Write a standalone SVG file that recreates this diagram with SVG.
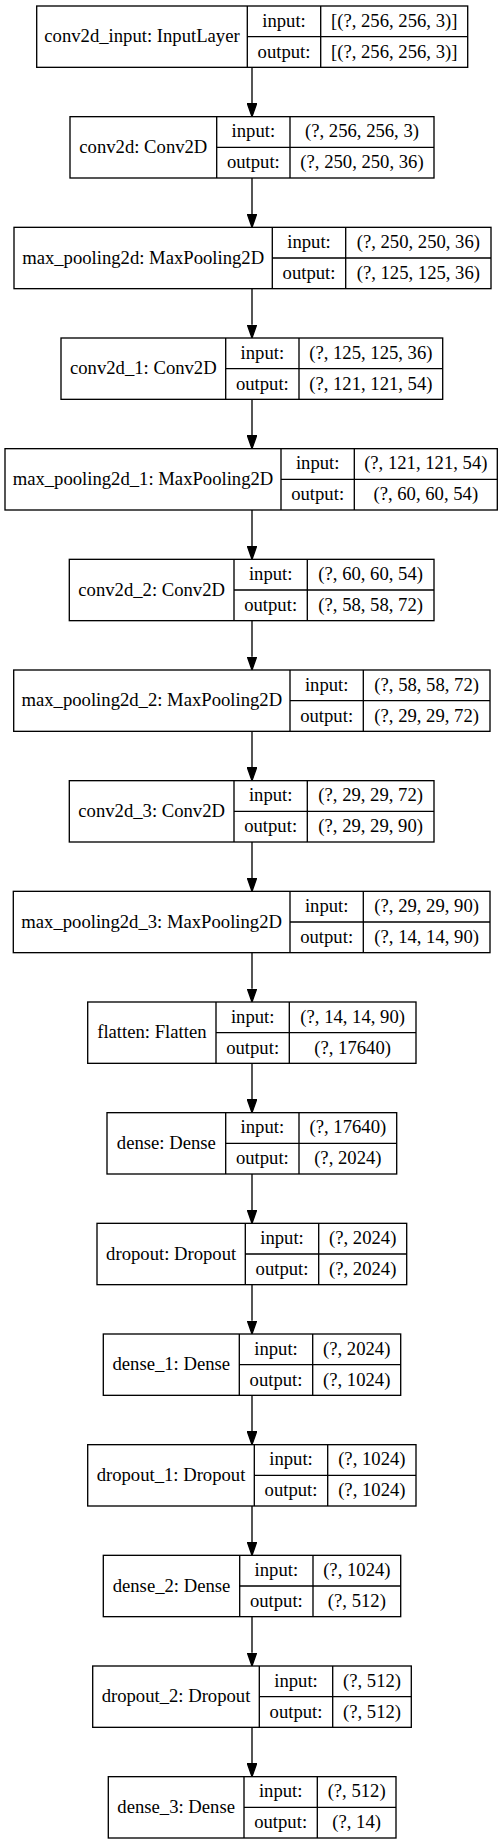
<svg xmlns="http://www.w3.org/2000/svg" width="504" height="1844" viewBox="0 0 504 1844">
<style>
.box{fill:#fff;stroke:#000;stroke-width:1.33}
.div{fill:none;stroke:#000;stroke-width:1.33}
text{font-family:"Liberation Serif","Times New Roman",serif;font-size:18.67px;fill:#000;text-anchor:middle}
.edge{stroke:#000;stroke-width:1.33;fill:none;marker-end:url(#ah)}
</style>
<defs>
<marker id="ah" markerUnits="userSpaceOnUse" viewBox="0 -5 14 10" refX="0" refY="0" markerWidth="14" markerHeight="10" orient="auto">
<path d="M0,-4.67 L13.33,0 L0,4.67 Z" fill="#000" stroke="#000" stroke-width="1.33"/>
</marker>
</defs>
<rect width="504" height="1844" fill="#fff"/>
<g id="edges">
<line class="edge" x1="252" y1="67.33" x2="252" y2="103.33"/>
<line class="edge" x1="252" y1="178" x2="252" y2="214"/>
<line class="edge" x1="252" y1="288.67" x2="252" y2="324.67"/>
<line class="edge" x1="252" y1="399.33" x2="252" y2="435.33"/>
<line class="edge" x1="252" y1="510" x2="252" y2="546"/>
<line class="edge" x1="252" y1="620.67" x2="252" y2="656.67"/>
<line class="edge" x1="252" y1="731.33" x2="252" y2="767.33"/>
<line class="edge" x1="252" y1="842" x2="252" y2="878"/>
<line class="edge" x1="252" y1="952.67" x2="252" y2="988.67"/>
<line class="edge" x1="252" y1="1063.33" x2="252" y2="1099.33"/>
<line class="edge" x1="252" y1="1174" x2="252" y2="1210"/>
<line class="edge" x1="252" y1="1284.67" x2="252" y2="1320.67"/>
<line class="edge" x1="252" y1="1395.33" x2="252" y2="1431.33"/>
<line class="edge" x1="252" y1="1506" x2="252" y2="1542"/>
<line class="edge" x1="252" y1="1616.67" x2="252" y2="1652.67"/>
<line class="edge" x1="252" y1="1727.33" x2="252" y2="1763.33"/>
</g>
<g id="node0" transform="translate(0,6)">
<rect class="box" x="36.7" y="0" width="431" height="61.33"/>
<path class="div" d="M247.3,0V61.33M320.7,0V61.33M247.3,30.67H467.7"/>
<text x="142" y="36.2">conv2d_input: InputLayer</text>
<text x="284" y="20.8">input:</text><text x="394.2" y="20.8">[(?, 256, 256, 3)]</text>
<text x="284" y="51.5">output:</text><text x="394.2" y="51.5">[(?, 256, 256, 3)]</text>
</g>
<g id="node1" transform="translate(0,116.67)">
<rect class="box" x="70" y="0" width="364" height="61.33"/>
<path class="div" d="M216.7,0V61.33M290,0V61.33M216.7,30.67H434"/>
<text x="143.35" y="36.2">conv2d: Conv2D</text>
<text x="253.35" y="20.8">input:</text><text x="362" y="20.8">(?, 256, 256, 3)</text>
<text x="253.35" y="51.5">output:</text><text x="362" y="51.5">(?, 250, 250, 36)</text>
</g>
<g id="node2" transform="translate(0,227.33)">
<rect class="box" x="14" y="0" width="477" height="61.33"/>
<path class="div" d="M272.3,0V61.33M345.7,0V61.33M272.3,30.67H491"/>
<text x="143.15" y="36.2">max_pooling2d: MaxPooling2D</text>
<text x="309" y="20.8">input:</text><text x="418.35" y="20.8">(?, 250, 250, 36)</text>
<text x="309" y="51.5">output:</text><text x="418.35" y="51.5">(?, 125, 125, 36)</text>
</g>
<g id="node3" transform="translate(0,338)">
<rect class="box" x="61" y="0" width="381.7" height="61.33"/>
<path class="div" d="M225.7,0V61.33M299,0V61.33M225.7,30.67H442.7"/>
<text x="143.35" y="36.2">conv2d_1: Conv2D</text>
<text x="262.35" y="20.8">input:</text><text x="370.85" y="20.8">(?, 125, 125, 36)</text>
<text x="262.35" y="51.5">output:</text><text x="370.85" y="51.5">(?, 121, 121, 54)</text>
</g>
<g id="node4" transform="translate(0,448.67)">
<rect class="box" x="5" y="0" width="492.3" height="61.33"/>
<path class="div" d="M281,0V61.33M354.3,0V61.33M281,30.67H497.3"/>
<text x="143" y="36.2">max_pooling2d_1: MaxPooling2D</text>
<text x="317.65" y="20.8">input:</text><text x="425.8" y="20.8">(?, 121, 121, 54)</text>
<text x="317.65" y="51.5">output:</text><text x="425.8" y="51.5">(?, 60, 60, 54)</text>
</g>
<g id="node5" transform="translate(0,559.33)">
<rect class="box" x="69.3" y="0" width="364.7" height="61.33"/>
<path class="div" d="M234,0V61.33M307.3,0V61.33M234,30.67H434"/>
<text x="151.65" y="36.2">conv2d_2: Conv2D</text>
<text x="270.65" y="20.8">input:</text><text x="370.65" y="20.8">(?, 60, 60, 54)</text>
<text x="270.65" y="51.5">output:</text><text x="370.65" y="51.5">(?, 58, 58, 72)</text>
</g>
<g id="node6" transform="translate(0,670)">
<rect class="box" x="13.7" y="0" width="476.3" height="61.33"/>
<path class="div" d="M290,0V61.33M363.3,0V61.33M290,30.67H490"/>
<text x="151.85" y="36.2">max_pooling2d_2: MaxPooling2D</text>
<text x="326.65" y="20.8">input:</text><text x="426.65" y="20.8">(?, 58, 58, 72)</text>
<text x="326.65" y="51.5">output:</text><text x="426.65" y="51.5">(?, 29, 29, 72)</text>
</g>
<g id="node7" transform="translate(0,780.67)">
<rect class="box" x="69.3" y="0" width="364.7" height="61.33"/>
<path class="div" d="M234,0V61.33M307.3,0V61.33M234,30.67H434"/>
<text x="151.65" y="36.2">conv2d_3: Conv2D</text>
<text x="270.65" y="20.8">input:</text><text x="370.65" y="20.8">(?, 29, 29, 72)</text>
<text x="270.65" y="51.5">output:</text><text x="370.65" y="51.5">(?, 29, 29, 90)</text>
</g>
<g id="node8" transform="translate(0,891.33)">
<rect class="box" x="13.3" y="0" width="476.7" height="61.33"/>
<path class="div" d="M290,0V61.33M363.3,0V61.33M290,30.67H490"/>
<text x="151.65" y="36.2">max_pooling2d_3: MaxPooling2D</text>
<text x="326.65" y="20.8">input:</text><text x="426.65" y="20.8">(?, 29, 29, 90)</text>
<text x="326.65" y="51.5">output:</text><text x="426.65" y="51.5">(?, 14, 14, 90)</text>
</g>
<g id="node9" transform="translate(0,1002)">
<rect class="box" x="87.7" y="0" width="328.3" height="61.33"/>
<path class="div" d="M216,0V61.33M289.3,0V61.33M216,30.67H416"/>
<text x="151.85" y="36.2">flatten: Flatten</text>
<text x="252.65" y="20.8">input:</text><text x="352.65" y="20.8">(?, 14, 14, 90)</text>
<text x="252.65" y="51.5">output:</text><text x="352.65" y="51.5">(?, 17640)</text>
</g>
<g id="node10" transform="translate(0,1112.67)">
<rect class="box" x="107" y="0" width="289.7" height="61.33"/>
<path class="div" d="M225.7,0V61.33M299,0V61.33M225.7,30.67H396.7"/>
<text x="166.35" y="36.2">dense: Dense</text>
<text x="262.35" y="20.8">input:</text><text x="347.85" y="20.8">(?, 17640)</text>
<text x="262.35" y="51.5">output:</text><text x="347.85" y="51.5">(?, 2024)</text>
</g>
<g id="node11" transform="translate(0,1223.33)">
<rect class="box" x="97" y="0" width="309.7" height="61.33"/>
<path class="div" d="M245.3,0V61.33M318.7,0V61.33M245.3,30.67H406.7"/>
<text x="171.15" y="36.2">dropout: Dropout</text>
<text x="282" y="20.8">input:</text><text x="362.7" y="20.8">(?, 2024)</text>
<text x="282" y="51.5">output:</text><text x="362.7" y="51.5">(?, 2024)</text>
</g>
<g id="node12" transform="translate(0,1334)">
<rect class="box" x="103.3" y="0" width="297.4" height="61.33"/>
<path class="div" d="M239.3,0V61.33M312.7,0V61.33M239.3,30.67H400.7"/>
<text x="171.3" y="36.2">dense_1: Dense</text>
<text x="276" y="20.8">input:</text><text x="356.7" y="20.8">(?, 2024)</text>
<text x="276" y="51.5">output:</text><text x="356.7" y="51.5">(?, 1024)</text>
</g>
<g id="node13" transform="translate(0,1444.67)">
<rect class="box" x="87.7" y="0" width="328.3" height="61.33"/>
<path class="div" d="M254.3,0V61.33M327.7,0V61.33M254.3,30.67H416"/>
<text x="171" y="36.2">dropout_1: Dropout</text>
<text x="291" y="20.8">input:</text><text x="371.85" y="20.8">(?, 1024)</text>
<text x="291" y="51.5">output:</text><text x="371.85" y="51.5">(?, 1024)</text>
</g>
<g id="node14" transform="translate(0,1555.33)">
<rect class="box" x="103.3" y="0" width="297.4" height="61.33"/>
<path class="div" d="M239.7,0V61.33M313,0V61.33M239.7,30.67H400.7"/>
<text x="171.5" y="36.2">dense_2: Dense</text>
<text x="276.35" y="20.8">input:</text><text x="356.85" y="20.8">(?, 1024)</text>
<text x="276.35" y="51.5">output:</text><text x="356.85" y="51.5">(?, 512)</text>
</g>
<g id="node15" transform="translate(0,1666)">
<rect class="box" x="92.7" y="0" width="318.6" height="61.33"/>
<path class="div" d="M259.3,0V61.33M332.7,0V61.33M259.3,30.67H411.3"/>
<text x="176" y="36.2">dropout_2: Dropout</text>
<text x="296" y="20.8">input:</text><text x="372" y="20.8">(?, 512)</text>
<text x="296" y="51.5">output:</text><text x="372" y="51.5">(?, 512)</text>
</g>
<g id="node16" transform="translate(0,1776.67)">
<rect class="box" x="108.3" y="0" width="287.7" height="61.33"/>
<path class="div" d="M244,0V61.33M317.3,0V61.33M244,30.67H396"/>
<text x="176.15" y="36.2">dense_3: Dense</text>
<text x="280.65" y="20.8">input:</text><text x="356.65" y="20.8">(?, 512)</text>
<text x="280.65" y="51.5">output:</text><text x="356.65" y="51.5">(?, 14)</text>
</g>
</svg>
